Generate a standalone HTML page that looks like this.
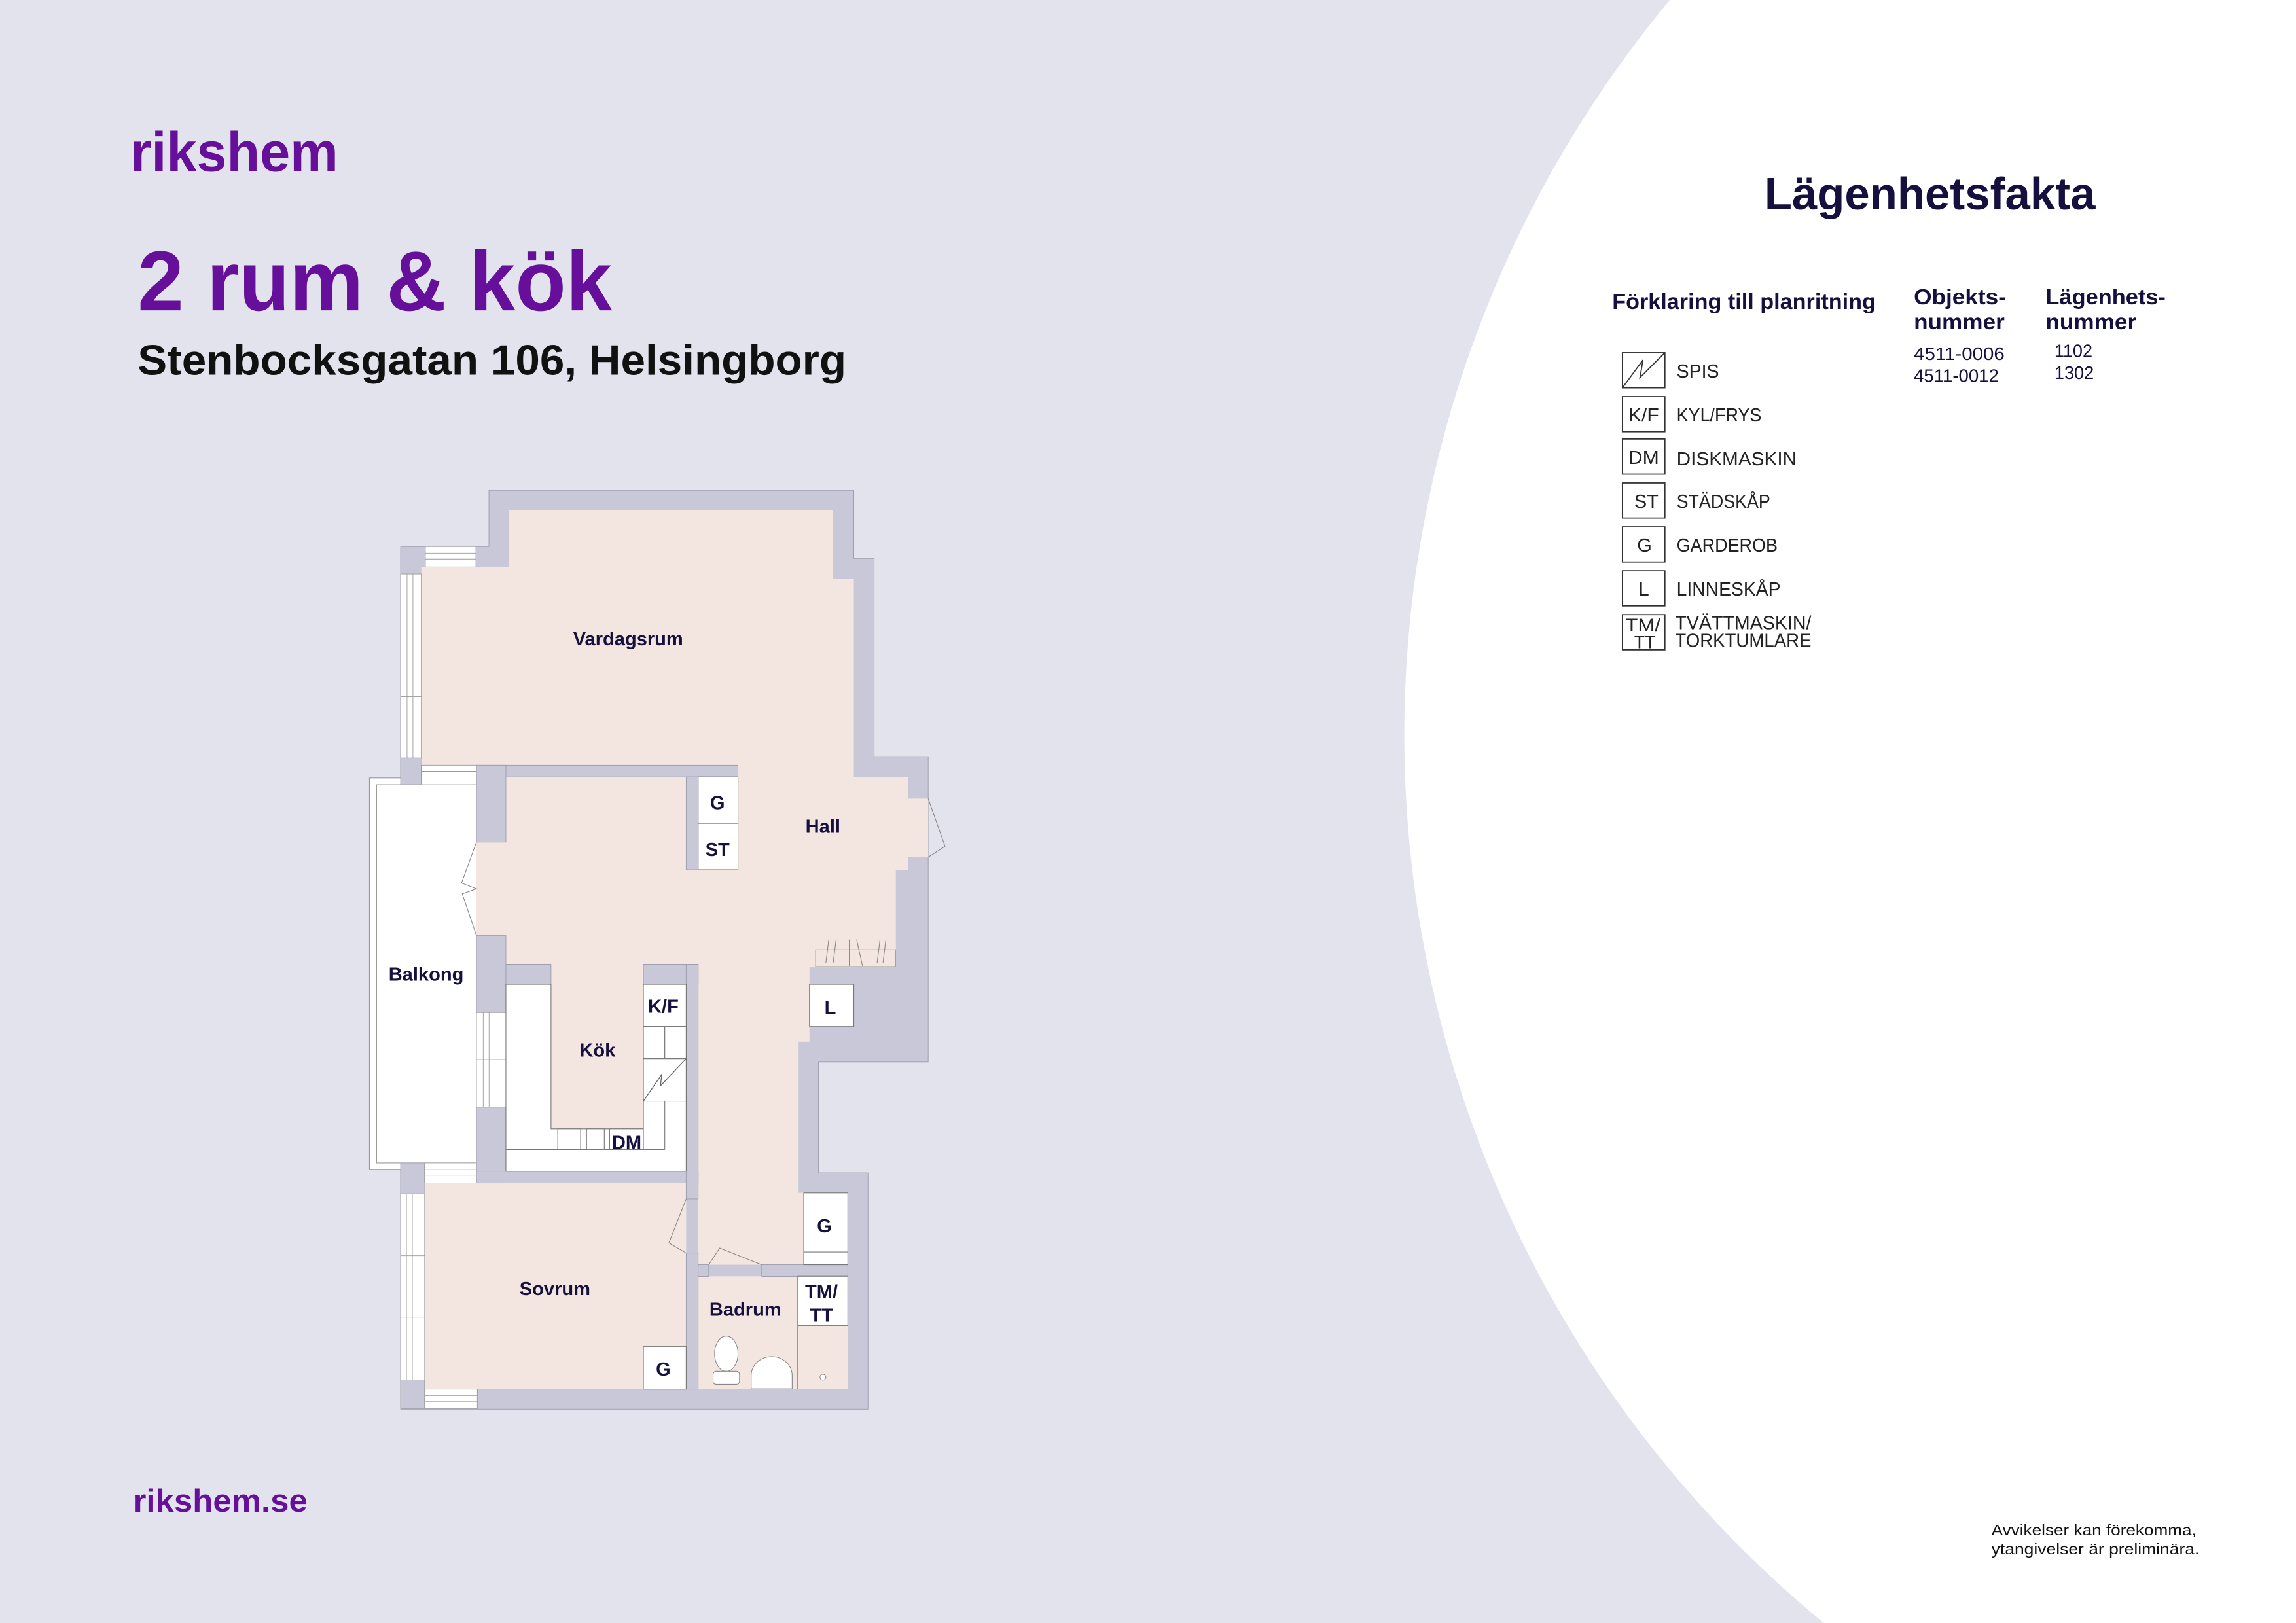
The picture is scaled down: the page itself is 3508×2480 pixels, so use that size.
<!DOCTYPE html>
<html><head><meta charset="utf-8"><style>
html,body{margin:0;padding:0;background:#ffffff;width:3508px;height:2480px;overflow:hidden;}
svg{display:block;}
text{font-family:"Liberation Sans",sans-serif;}
</style></head><body>
<svg width="3508" height="2480" viewBox="0 0 1568 1109" preserveAspectRatio="none" xmlns="http://www.w3.org/2000/svg">
<rect x="-5" y="-5" width="1580" height="1120" fill="#e3e3ed"/>
<path d="M1142,-2 A786,786 0 0 0 1248,1111 L1580,1111 L1580,-2 Z" fill="#ffffff"/>

<text x="89" y="117" font-size="38" font-weight="bold" fill="#650f9b" textLength="142" lengthAdjust="spacingAndGlyphs">rikshem</text>
<text x="94" y="212" font-size="58" font-weight="bold" fill="#650f9b" textLength="324" lengthAdjust="spacingAndGlyphs">2 rum &amp; kök</text>
<text x="94" y="256" font-size="29" font-weight="bold" fill="#111" textLength="484" lengthAdjust="spacingAndGlyphs">Stenbocksgatan 106, Helsingborg</text>
<text x="91" y="1033" font-size="22" font-weight="bold" fill="#650f9b" textLength="119" lengthAdjust="spacingAndGlyphs">rikshem.se</text>

<g fill="#15103d">
<text x="1205" y="143" font-size="31" font-weight="bold" textLength="226" lengthAdjust="spacingAndGlyphs">Lägenhetsfakta</text>
<text x="1101" y="211" font-size="15" font-weight="bold" textLength="180" lengthAdjust="spacingAndGlyphs">Förklaring till planritning</text>
<text x="1307" y="208" font-size="15" font-weight="bold" textLength="63" lengthAdjust="spacingAndGlyphs">Objekts-</text>
<text x="1307" y="225" font-size="15" font-weight="bold" textLength="62" lengthAdjust="spacingAndGlyphs">nummer</text>
<text x="1397" y="208" font-size="15" font-weight="bold" textLength="82" lengthAdjust="spacingAndGlyphs">Lägenhets-</text>
<text x="1397" y="225" font-size="15" font-weight="bold" textLength="62" lengthAdjust="spacingAndGlyphs">nummer</text>
<text x="1307" y="246" font-size="12.5" textLength="62" lengthAdjust="spacingAndGlyphs">4511-0006</text>
<text x="1307" y="261" font-size="12.5" textLength="58" lengthAdjust="spacingAndGlyphs">4511-0012</text>
<text x="1403" y="244" font-size="12.5" textLength="26" lengthAdjust="spacingAndGlyphs">1102</text>
<text x="1403" y="259" font-size="12.5" textLength="27" lengthAdjust="spacingAndGlyphs">1302</text>
</g>
<g fill="#fff" stroke="#333" stroke-width="0.8">
<rect x="1108" y="241" width="29" height="24"/>
<rect x="1108" y="271" width="29" height="24"/>
<rect x="1108" y="300" width="29" height="24"/>
<rect x="1108" y="330" width="29" height="24"/>
<rect x="1108" y="360" width="29" height="24"/>
<rect x="1108" y="390" width="29" height="24"/>
<rect x="1108" y="420" width="29" height="24"/>
</g>
<polyline points="1108,265 1122,246 1120,258 1137,241" fill="none" stroke="#333" stroke-width="0.8"/>
<g fill="#222" font-size="13">
<text x="1112" y="288" textLength="21" lengthAdjust="spacingAndGlyphs">K/F</text>
<text x="1112" y="317" textLength="21" lengthAdjust="spacingAndGlyphs">DM</text>
<text x="1116" y="347">ST</text>
<text x="1118" y="377">G</text>
<text x="1119" y="407">L</text>
<text x="1110" y="431" font-size="12" textLength="24" lengthAdjust="spacingAndGlyphs">TM/</text>
<text x="1116" y="443" font-size="12">TT</text>
<text x="1145" y="258" textLength="29" lengthAdjust="spacingAndGlyphs">SPIS</text>
<text x="1145" y="288" textLength="58" lengthAdjust="spacingAndGlyphs">KYL/FRYS</text>
<text x="1145" y="318" textLength="82" lengthAdjust="spacingAndGlyphs">DISKMASKIN</text>
<text x="1145" y="347" textLength="64" lengthAdjust="spacingAndGlyphs">STÄDSKÅP</text>
<text x="1145" y="377" textLength="69" lengthAdjust="spacingAndGlyphs">GARDEROB</text>
<text x="1145" y="407" textLength="71" lengthAdjust="spacingAndGlyphs">LINNESKÅP</text>
<text x="1144" y="430" textLength="93" lengthAdjust="spacingAndGlyphs">TVÄTTMASKIN/</text>
<text x="1144" y="442" textLength="93" lengthAdjust="spacingAndGlyphs">TORKTUMLARE</text>
</g>
<g fill="#111" font-size="10.5">
<text x="1360" y="1049" textLength="140" lengthAdjust="spacingAndGlyphs">Avvikelser kan förekomma,</text>
<text x="1360" y="1062" textLength="142" lengthAdjust="spacingAndGlyphs">ytangivelser är preliminära.</text>
</g>

<g stroke="#9a9aaa" stroke-width="0.4">
<polygon fill="#c8c8d8" points="333.9,335 583.1,335 583.1,381.5 597,381.5 597,517 633.9,517 633.9,725.7 559,725.7 559,801.4 592.8,801.4 592.8,962.9 273.6,962.9 273.6,794.6 325.4,794.6 325.4,536.2 273.6,536.2 273.6,373.5 333.9,373.5"/>
</g>
<rect x="252.3" y="531.6" width="73.1" height="267.6" fill="#fff" stroke="#999" stroke-width="0.5"/>
<rect x="257.2" y="536.2" width="68.2" height="258.4" fill="#fff" stroke="#999" stroke-width="0.5"/>
<rect x="273.6" y="517.9" width="14.1" height="18.3" fill="#c8c8d8" stroke="#9a9aaa" stroke-width="0.4"/>
<rect x="273.6" y="794.6" width="16.4" height="21.2" fill="#c8c8d8" stroke="#9a9aaa" stroke-width="0.4"/>

<g fill="#f3e6e0">
<rect x="347.5" y="348.7" width="221.2" height="175"/>
<rect x="287.7" y="387.4" width="281" height="136"/>
<rect x="568.7" y="395.4" width="14.4" height="140"/>
<rect x="476.8" y="517" width="106.3" height="144"/>
<rect x="583.1" y="530.9" width="36.9" height="63.7"/>
<polygon points="620,545.7 633.9,545.7 633.9,585.7 620,585.7"/>
<rect x="345.5" y="530.9" width="131.3" height="128"/>
<rect x="325.4" y="575.4" width="20.1" height="63.9"/>
<rect x="376.3" y="658" width="63.1" height="113.3"/>
<rect x="476.8" y="594" width="135" height="66.5"/>
<rect x="476.8" y="658" width="76" height="53.8"/>
<rect x="476.8" y="711" width="68.6" height="153.2"/>
<rect x="545" y="815" width="4" height="49.2"/>
<rect x="290" y="808.3" width="178.6" height="140.9"/>
<rect x="476.8" y="872.1" width="102.2" height="77.1"/>
</g>
<g fill="#c8c8d8" stroke="#9a9aaa" stroke-width="0.4">
<rect x="325.4" y="522.9" width="178.6" height="8"/>
<rect x="325.4" y="522.9" width="20.1" height="52.5"/>
<rect x="468.6" y="530.9" width="8.2" height="63.4"/>
<rect x="325.4" y="639.3" width="20.1" height="169"/>
<rect x="325.4" y="800.3" width="151.4" height="8"/>
<rect x="345.5" y="658.9" width="30.8" height="13.7"/>
<rect x="439.4" y="658.9" width="37.4" height="13.7"/>
<rect x="468.6" y="658.9" width="8.2" height="160.3"/>
<rect x="468.6" y="856.2" width="8.2" height="93"/>
<rect x="476.8" y="864.2" width="7.2" height="8"/>
<rect x="520.2" y="864.2" width="58.8" height="8"/>
</g>
<g fill="#fff" stroke="#999" stroke-width="0.4">
<rect x="290.5" y="373.5" width="34.5" height="13.9"/>
<line x1="290.5" y1="378" x2="325" y2="378"/><line x1="290.5" y1="382" x2="325" y2="382"/>
<rect x="273.6" y="392.2" width="14.1" height="125.7"/>
<line x1="278" y1="392.2" x2="278" y2="517.9"/><line x1="282" y1="392.2" x2="282" y2="517.9"/>
<line x1="273.6" y1="434" x2="287.7" y2="434"/><line x1="273.6" y1="476" x2="287.7" y2="476"/>
<rect x="287.7" y="522.9" width="37.7" height="13.3"/>
<line x1="287.7" y1="527" x2="325.4" y2="527"/><line x1="287.7" y1="531" x2="325.4" y2="531"/>
<rect x="325.4" y="691.9" width="20.1" height="64.6"/>
<line x1="330" y1="691.9" x2="330" y2="756.5"/><line x1="334" y1="691.9" x2="334" y2="756.5"/>
<line x1="325.4" y1="724" x2="345.5" y2="724"/>
<rect x="290" y="794.6" width="35.4" height="13.7"/>
<line x1="290" y1="799" x2="325.4" y2="799"/><line x1="290" y1="803" x2="325.4" y2="803"/>
<rect x="273.6" y="815.8" width="16.4" height="127.1"/>
<line x1="277.6" y1="815.8" x2="277.6" y2="942.9"/><line x1="281.6" y1="815.8" x2="281.6" y2="942.9"/>
<line x1="273.6" y1="858" x2="290" y2="858"/><line x1="273.6" y1="900" x2="290" y2="900"/>
<rect x="273.6" y="942.9" width="16.4" height="19.5" fill="#c8c8d8"/>
<rect x="290" y="949.2" width="36" height="13.2"/>
<line x1="290" y1="953.5" x2="326" y2="953.5"/><line x1="290" y1="957.8" x2="326" y2="957.8"/>
</g>
<g fill="#fff" stroke="#777" stroke-width="0.5">
<path d="M345.5,672.6 H376.3 V771.3 H439.4 V672.6 H468.6 V800.3 H345.5 Z"/>
<rect x="439.4" y="672.6" width="29.2" height="28.9"/>
<rect x="439.4" y="701.5" width="14.6" height="21.9"/>
<rect x="454" y="701.5" width="14.6" height="21.9"/>
<rect x="439.4" y="723.4" width="29.2" height="29"/>
<line x1="345.5" y1="785.5" x2="454" y2="785.5"/>
<line x1="454" y1="752.4" x2="454" y2="785.5"/>
<rect x="380.9" y="771.3" width="15.6" height="14.2"/>
<rect x="400.6" y="771.3" width="12.1" height="14.2"/>
<rect x="416.3" y="771.3" width="23.1" height="14.2"/>
<rect x="476.8" y="530.9" width="27.2" height="31.7"/>
<rect x="476.8" y="562.6" width="27.2" height="31.7"/>
<rect x="552.8" y="672.6" width="30.3" height="28.9"/>
<rect x="548.9" y="815.1" width="30.1" height="49.1"/>
<line x1="548.9" y1="855.5" x2="579" y2="855.5"/>
<rect x="544.8" y="872.1" width="34.2" height="33.6"/>
<rect x="439.4" y="920" width="29.2" height="29.2"/>
</g>
<polyline points="439.4,752.4 452,734 451,742 468.6,723.4" fill="none" stroke="#666" stroke-width="0.6"/>
<line x1="544.8" y1="905.7" x2="544.8" y2="949.2" stroke="#777" stroke-width="0.5"/>
<rect x="557" y="649" width="54.6" height="11.5" fill="none" stroke="#999" stroke-width="0.5"/>
<g stroke="#888" stroke-width="0.5">
<line x1="564" y1="658" x2="566" y2="642"/><line x1="569" y1="658" x2="571" y2="642"/>
<line x1="580" y1="660" x2="580" y2="642"/><line x1="589" y1="660" x2="585" y2="642"/>
<line x1="599" y1="658" x2="601" y2="642"/><line x1="603" y1="658" x2="605" y2="642"/>
</g>
<g fill="none" stroke="#888" stroke-width="0.5">
<polyline points="325.4,575.4 315.2,603.4 325.4,607.3 315.7,610.8 325.4,639.3"/>
<polyline points="633.9,545.7 645.4,578.3 633.9,585.7"/>
<polyline points="468.6,819.2 456.8,849.3 468.6,856.2"/>
<polyline points="484,864.2 491.5,852.8 520.2,864.2"/>
</g>
<g fill="#fff" stroke="#888" stroke-width="0.5">
<ellipse cx="496" cy="925" rx="8" ry="12"/>
<rect x="487" y="937" width="18" height="9" rx="2"/>
<path d="M513,949 V940 A14,13 0 0 1 541,940 V949 Z"/>
<circle cx="562" cy="941" r="2"/>
</g>

<g fill="#15103d" font-weight="bold" font-size="13" text-anchor="middle">
<text x="429" y="441">Vardagsrum</text>
<text x="562" y="569">Hall</text>
<text x="291" y="670">Balkong</text>
<text x="408" y="722">Kök</text>
<text x="428" y="785">DM</text>
<text x="453" y="692">K/F</text>
<text x="490" y="553">G</text>
<text x="490" y="585">ST</text>
<text x="567" y="693">L</text>
<text x="563" y="842">G</text>
<text x="561" y="887">TM/</text>
<text x="561" y="903">TT</text>
<text x="509" y="899">Badrum</text>
<text x="379" y="885">Sovrum</text>
<text x="453" y="940">G</text>
</g>
</svg>
</body></html>
